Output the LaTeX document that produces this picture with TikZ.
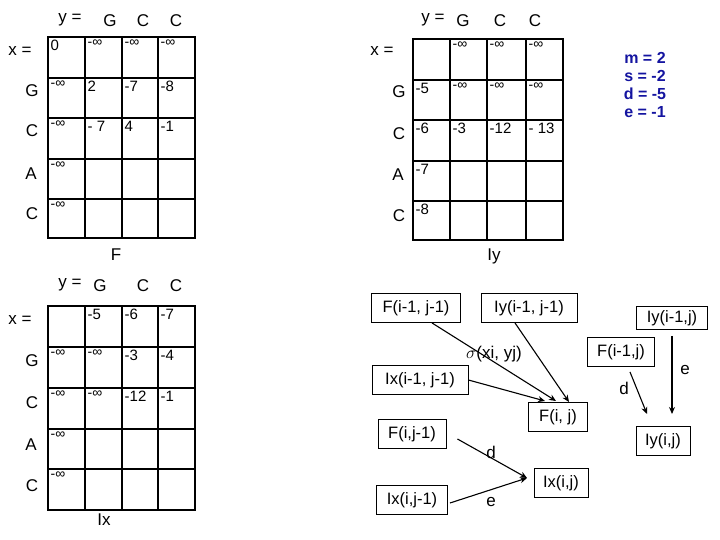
\documentclass[tikz,border=0pt]{standalone}
\usepackage{fontspec}
\setmainfont{Liberation Sans}
\usetikzlibrary{arrows.meta}
\definecolor{navy}{RGB}{20,20,160}
\tikzset{
  lab/.style={font=\fontsize{17}{19}\selectfont, inner sep=0pt},
  cell/.style={font=\fontsize{15}{17}\selectfont, anchor=north west, inner sep=1.5pt},
  grid/.style={line width=1.6pt},
  box/.style={draw, line width=0.9pt, font=\fontsize{16.5}{19}\selectfont, inner sep=0pt, minimum height=29pt},
  arr/.style={line width=1.1pt, -{Stealth[length=7pt,width=6pt]}},
  par/.style={font=\bfseries\fontsize{16}{18}\selectfont, text=navy, inner sep=0pt}
}
\newcommand{\ninf}{{\fontsize{14}{16}\selectfont -∞}}
\begin{document}
\begin{tikzpicture}[x=1pt,y=-1pt]
\useasboundingbox (0,0) rectangle (720,540);
% ---------- F grid
\draw[grid] (48,37) rectangle (195,238);
\foreach \cx in {85,122,158} \draw[grid] (\cx,37) -- (\cx,238);
\foreach \cy in {78,118,159,199} \draw[grid] (48,\cy) -- (195,\cy);
\node[lab] (fy) at (70,20) {y =};
\node[lab] (fg) at (110,21) {G};
\node[lab] (fc1) at (143,21) {C};
\node[lab] (fc2) at (176,21) {C};
\node[lab] (fx) at (20,51) {x =};
\node[lab] (fr1) at (32,91) {G};
\node[lab] (fr2) at (32,131) {C};
\node[lab] (fr3) at (31,174) {A};
\node[lab] (fr4) at (32,214) {C};
\node[lab] (fname) at (116,255) {F};
\node[cell] (f00) at (49,38) {0};
\node[cell] (f01) at (86,38) {\ninf};
\node[cell] (f02) at (123,38) {\ninf};
\node[cell] (f03) at (159,38) {\ninf};
\node[cell] (f10) at (49,79) {\ninf};
\node[cell] (f11) at (86,79) {2};
\node[cell] (f12) at (123,79) {-7};
\node[cell] (f13) at (159,79) {-8};
\node[cell] (f20) at (49,119) {\ninf};
\node[cell] (f21) at (86,119) {- 7};
\node[cell] (f22) at (123,119) {4};
\node[cell] (f23) at (159,119) {-1};
\node[cell] (f30) at (49,160) {\ninf};
\node[cell] (f40) at (49,200) {\ninf};
% ---------- Iy grid
\draw[grid] (413,39) rectangle (563,240);
\foreach \cx in {450,487,526} \draw[grid] (\cx,39) -- (\cx,240);
\foreach \cy in {80,120,161,201} \draw[grid] (413,\cy) -- (563,\cy);
\node[lab] (iyy) at (433,20) {y =};
\node[lab] (iyg) at (463,21) {G};
\node[lab] (iyc1) at (500,21) {C};
\node[lab] (iyc2) at (535,21) {C};
\node[lab] (iyx) at (382,51) {x =};
\node[lab] (iyr1) at (399,92) {G};
\node[lab] (iyr2) at (399,134) {C};
\node[lab] (iyr3) at (398,175) {A};
\node[lab] (iyr4) at (399,216) {C};
\node[lab] (iyname) at (494,256) {Iy};
\node[cell] (y01) at (451,40) {\ninf};
\node[cell] (y02) at (488,40) {\ninf};
\node[cell] (y03) at (527,40) {\ninf};
\node[cell] (y10) at (414,81) {-5};
\node[cell] (y11) at (451,81) {\ninf};
\node[cell] (y12) at (488,81) {\ninf};
\node[cell] (y13) at (527,81) {\ninf};
\node[cell] (y20) at (414,121) {-6};
\node[cell] (y21) at (451,121) {-3};
\node[cell] (y22) at (488,121) {-12};
\node[cell] (y23) at (527,121) {- 13};
\node[cell] (y30) at (414,162) {-7};
\node[cell] (y40) at (414,202) {-8};
% parameters
\node[par] (pm) at (645,58) {m = 2};
\node[par] (ps) at (645,76) {s = -2};
\node[par] (pd) at (645,94) {d = -5};
\node[par] (pe) at (645,112) {e = -1};
% ---------- Ix grid
\draw[grid] (48,306) rectangle (195,510);
\foreach \cx in {85,122,158} \draw[grid] (\cx,306) -- (\cx,510);
\foreach \cy in {347,388,429,469} \draw[grid] (48,\cy) -- (195,\cy);
\node[lab] (ixy) at (70,285) {y =};
\node[lab] (ixg) at (100,286) {G};
\node[lab] (ixc1) at (143,286) {C};
\node[lab] (ixc2) at (176,286) {C};
\node[lab] (ixx) at (20,320) {x =};
\node[lab] (ixr1) at (32,361) {G};
\node[lab] (ixr2) at (32,403) {C};
\node[lab] (ixr3) at (31,445) {A};
\node[lab] (ixr4) at (32,486) {C};
\node[lab] (ixname) at (104,520) {Ix};
\node[cell] (x01) at (86,307) {-5};
\node[cell] (x02) at (123,307) {-6};
\node[cell] (x03) at (159,307) {-7};
\node[cell] (x10) at (49,348) {\ninf};
\node[cell] (x11) at (86,348) {\ninf};
\node[cell] (x12) at (123,348) {-3};
\node[cell] (x13) at (159,348) {-4};
\node[cell] (x20) at (49,389) {\ninf};
\node[cell] (x21) at (86,389) {\ninf};
\node[cell] (x22) at (123,389) {-12};
\node[cell] (x23) at (159,389) {-1};
\node[cell] (x30) at (49,430) {\ninf};
\node[cell] (x40) at (49,470) {\ninf};
% ---------- recurrence diagram
\node[box, minimum width=89pt] (fmm) at (416,308) {F(i-1, j-1)};
\node[box, minimum width=96pt] (iymm) at (529,308) {Iy(i-1, j-1)};
\node[box, minimum width=71pt, minimum height=23pt] (iym) at (672,318) {Iy(i-1,j)};
\node[box, minimum width=67pt] (fm) at (621,352) {F(i-1,j)};
\node[box, minimum width=96pt] (ixmm) at (420,380) {Ix(i-1, j-1)};
\node[box, minimum width=59pt] (fij) at (558,417) {F(i, j)};
\node[box, minimum width=54pt] (iyij) at (663,441) {Iy(i,j)};
\node[box, minimum width=68pt] (fjm) at (412,434) {F(i,j-1)};
\node[box, minimum width=54pt] (ixij) at (561,483) {Ix(i,j)};
\node[box, minimum width=71pt] (ixjm) at (412,500) {Ix(i,j-1)};
\coordinate (a1) at (556,401);
\coordinate (a2) at (569,402);
\coordinate (a3) at (545,401);
\draw[arr] ([xshift=16pt]fmm.south) -- (a1);
\draw[arr] ([xshift=-14pt]iymm.south) -- (a2);
\draw[arr] (ixmm.east) -- (a3);
\node[lab] (sig) at (494,354) {$\sigma$(xi, yj)};
\coordinate (b1) at (647,414);
\coordinate (b2) at (672,414);
\draw[arr] ([xshift=9pt,yshift=-5pt]fm.south) -- (b1);
\node[lab] (ld1) at (624,388) {d};
\draw[arr] ([yshift=-6pt]iym.south) -- (b2);
\node[lab] (le1) at (685,370) {e};
\coordinate (c1) at (527,478);
\draw[arr] ([xshift=11pt,yshift=-5pt]fjm.east) -- (c1);
\node[lab] (ld2) at (491,452) {d};
\draw[arr] ([xshift=2pt,yshift=-3pt]ixjm.east) -- (c1);
\node[lab] (le2) at (491,502) {e};
\end{tikzpicture}
\end{document}
